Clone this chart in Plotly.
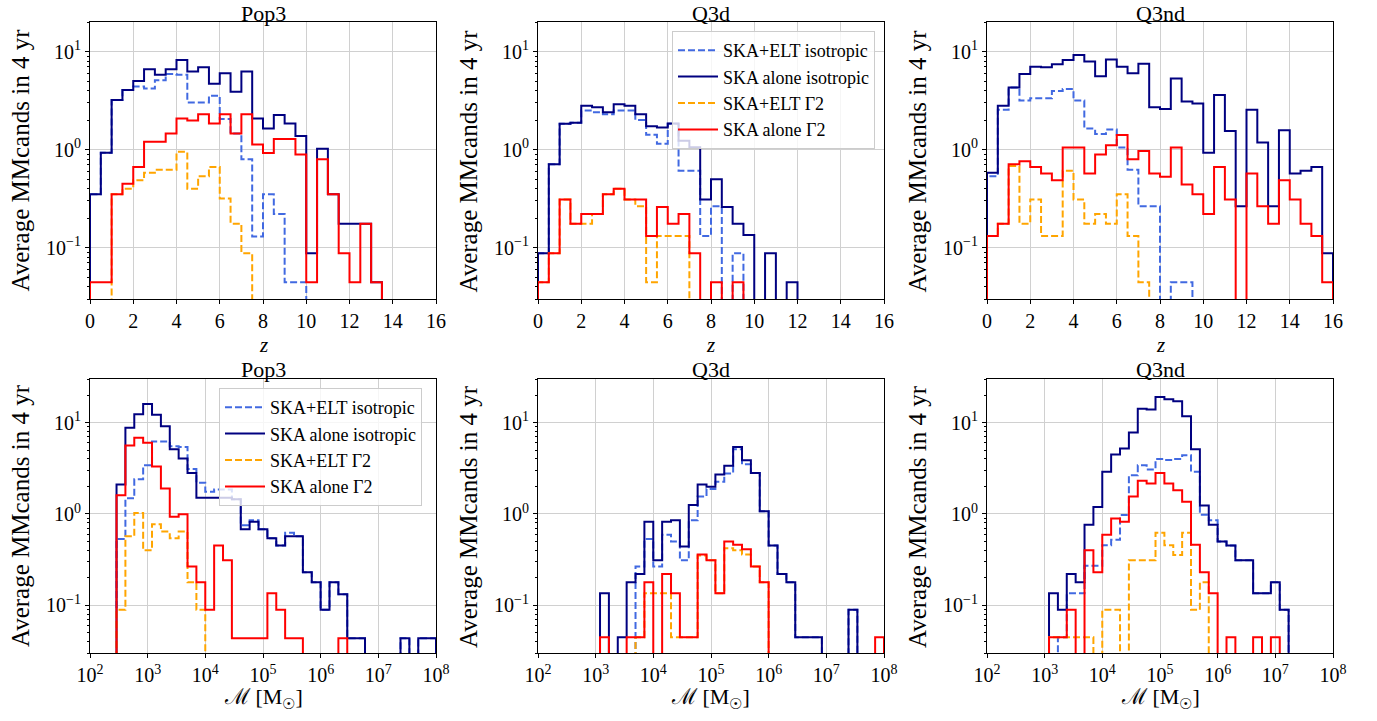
import numpy as np
import plotly.graph_objects as go

# ---------------- data ----------------
z_edges = np.linspace(0, 16, 33)             # redshift bins (width 0.5)
logm_edges = np.linspace(2.46, 8.0, 37)      # log10 chirp-mass bins
m_edges = 10 ** logm_edges

series_names = ["SKA+ELT isotropic", "SKA alone isotropic", "SKA+ELT \u03932", "SKA alone \u03932"]
panel_titles = ["Pop3", "Q3d", "Q3nd"]

# ---- top row: counts vs z ----
pop3_z_elt_iso = [0.35, 0.93, 3.2, 4.06, 4.4, 4.2, 5.1, 5.9, 5.8, 3.03, 3.03, 3.55, 2.05, 1.46, 0.8, 0.13,
                  0.35, 0.22, 0.0445, 0.0445, 0, 0, 0, 0, 0, 0, 0, 0, 0, 0, 0, 0]
pop3_z_ska_iso = [0.35, 0.93, 3.2, 4.06, 5.0, 6.6, 5.8, 6.6, 8.2, 6.25, 6.9, 4.7, 6.0, 3.9, 6.25, 2.08,
                  1.64, 2.25, 1.85, 1.38, 0.088, 1.02, 0.35, 0.176, 0.176, 0.176, 0.0445, 0, 0, 0, 0, 0]
pop3_z_elt_g2 = [0, 0, 0.35, 0.40, 0.487, 0.58, 0.625, 0.625, 0.95, 0.40, 0.535, 0.665, 0.317, 0.176, 0.088, 0,
                 0, 0, 0, 0, 0, 0, 0, 0, 0, 0, 0, 0, 0, 0, 0, 0]
pop3_z_ska_g2 = [0.0445, 0.0445, 0.35, 0.45, 0.665, 1.2, 1.2, 1.46, 2.08, 1.98, 2.3, 1.85, 2.3, 1.46, 2.3, 1.13,
                 0.925, 1.28, 1.28, 0.89, 0.0445, 0.796, 0.35, 0.088, 0.0445, 0.176, 0.0445, 0, 0, 0, 0, 0]

q3d_z_elt_iso = [0.088, 0.71, 1.84, 1.88, 2.5, 2.4, 2.3, 2.5, 2.5, 2.0, 1.42, 1.15, 1.84, 0.61, 0.61, 0.132,
                 0.265, 0, 0.088, 0, 0, 0, 0, 0, 0, 0, 0, 0, 0, 0, 0, 0]
q3d_z_ska_iso = [0.088, 0.71, 1.84, 1.88, 2.8, 2.7, 2.4, 2.9, 2.8, 2.3, 1.73, 1.68, 1.85, 1.23, 1.06, 0.31,
                 0.50, 0.26, 0.176, 0.135, 0, 0.088, 0, 0.0445, 0, 0, 0, 0, 0, 0, 0, 0]
q3d_z_elt_g2 = [0.0445, 0.088, 0.31, 0.176, 0.176, 0.22, 0.35, 0.40, 0.31, 0.265, 0.0445, 0.132, 0.132, 0.132, 0, 0,
                0, 0, 0, 0, 0, 0, 0, 0, 0, 0, 0, 0, 0, 0, 0, 0]
q3d_z_ska_g2 = [0.0445, 0.088, 0.31, 0.176, 0.22, 0.22, 0.35, 0.40, 0.31, 0.31, 0.132, 0.26, 0.176, 0.22, 0.088, 0,
                0.0445, 0, 0.0445, 0, 0, 0, 0, 0, 0, 0, 0, 0, 0, 0, 0, 0]

q3nd_z_elt_iso = [0.535, 2.55, 4.3, 3.16, 3.33, 3.33, 3.95, 4.15, 3.16, 1.64, 1.44, 1.6, 1.05, 0.625, 0.265, 0.265,
                  0, 0.0445, 0.0445, 0, 0, 0, 0, 0, 0, 0, 0, 0, 0, 0, 0, 0]
q3nd_z_ska_iso = [0.58, 2.8, 4.3, 5.9, 7.0, 6.9, 7.4, 8.2, 9.2, 7.9, 5.6, 8.3, 7.0, 6.0, 7.5, 2.7,
                  2.6, 5.3, 3.1, 2.95, 0.93, 3.6, 1.55, 0.265, 2.55, 1.18, 0.265, 1.58, 0.57, 0.61, 0.665, 0.088]
q3nd_z_elt_g2 = [0.132, 0.176, 0.68, 0.176, 0.31, 0.132, 0.132, 0.61, 0.31, 0.176, 0.22, 0.176, 0.35, 0.132, 0.0445, 0,
                 0, 0, 0, 0, 0, 0, 0, 0, 0, 0, 0, 0, 0, 0, 0, 0]
q3nd_z_ska_g2 = [0.132, 0.176, 0.71, 0.76, 0.665, 0.57, 0.487, 1.05, 1.05, 0.57, 0.89, 1.11, 1.41, 0.796, 0.97, 0.57,
                 0.53, 1.05, 0.44, 0.35, 0.22, 0.665, 0.31, 0, 0.57, 0.265, 0.176, 0.487, 0.31, 0.176, 0.132, 0.0445]

# ---- bottom row: counts vs chirp mass ----
pop3_m_elt_iso = [0.53, 1.48, 2.4, 3.4, 6.2, 6.2, 5.5, 5.4, 3.1, 2.2, 1.75, 1.85, 1.85, 1.45, 0.75, 0.85, 0.68, 0.54,
                  0.45, 0.62, 0.57, 0.23, 0.178, 0.089, 0.178, 0.132, 0.0435, 0.0435, 0, 0, 0, 0, 0.0435, 0, 0.0435, 0.0435]
pop3_m_ska_iso = [2.1, 8.8, 12.3, 16.0, 12.2, 9.1, 5.1, 4.04, 2.8, 1.5, 1.5, 1.5, 1.5, 1.45, 0.68, 0.82, 0.68, 0.54,
                  0.45, 0.57, 0.57, 0.23, 0.178, 0.089, 0.178, 0.132, 0.0435, 0.0435, 0, 0, 0, 0, 0.0435, 0, 0.0435, 0.0435]
pop3_m_elt_g2 = [0.089, 0.57, 1.02, 0.40, 0.77, 0.64, 0.54, 0.64, 0.178, 0.089, 0, 0, 0, 0, 0, 0, 0, 0,
                 0, 0, 0, 0, 0, 0, 0, 0, 0, 0, 0, 0, 0, 0, 0, 0, 0, 0]
pop3_m_ska_g2 = [1.6, 5.6, 6.8, 6.0, 3.3, 1.9, 0.93, 0.99, 0.265, 0.178, 0.089, 0.45, 0.31, 0.0435, 0.0435, 0.0435, 0.0435, 0.135,
                 0.089, 0.0435, 0.0435, 0, 0, 0, 0, 0.0435, 0, 0, 0, 0, 0, 0, 0, 0, 0, 0]

q3d_m_elt_iso = [0, 0, 0, 0, 0, 0, 0, 0, 0.265, 0.53, 0.265, 0.59, 0.5, 0.31, 0.85, 1.55, 1.87, 2.25,
                 2.77, 5.1, 3.5, 2.8, 1.07, 0.45, 0.22, 0.178, 0.0445, 0.0445, 0.0445, 0, 0, 0, 0.089, 0, 0, 0]
q3d_m_ska_iso = [0, 0, 0, 0, 0.135, 0, 0.0445, 0.178, 0.22, 0.82, 0.31, 0.82, 0.85, 0.44, 1.25, 2.1, 1.98, 2.7,
                 3.36, 5.4, 3.87, 2.8, 1.07, 0.45, 0.22, 0.178, 0.0445, 0.0445, 0.0445, 0, 0, 0, 0.089, 0, 0, 0]
q3d_m_elt_g2 = [0, 0, 0, 0, 0, 0, 0, 0, 0.0445, 0.135, 0.135, 0.135, 0.0445, 0.0445, 0.0445, 0.35, 0.31, 0.135,
                0.42, 0.40, 0.36, 0.265, 0.178, 0, 0, 0, 0, 0, 0, 0, 0, 0, 0, 0, 0, 0]
q3d_m_ska_g2 = [0, 0, 0, 0, 0.0445, 0, 0, 0.0445, 0.0445, 0.178, 0, 0.22, 0.135, 0.0445, 0.0445, 0.36, 0.31, 0.135,
                0.5, 0.46, 0.41, 0.265, 0.178, 0, 0, 0, 0, 0, 0, 0, 0, 0, 0, 0, 0, 0.0445]

q3nd_m_elt_iso = [0, 0, 0, 0, 0, 0.0445, 0.135, 0.135, 0.27, 0.27, 0.455, 0.52, 0.97, 2.65, 3.4, 3.06, 4.0, 3.9,
                  4.0, 4.4, 2.9, 0.98, 0.85, 0.5, 0.45, 0.31, 0.31, 0.135, 0.135, 0.178, 0.089, 0, 0, 0, 0, 0]
q3nd_m_ska_iso = [0, 0, 0, 0, 0.135, 0.089, 0.22, 0.178, 0.76, 1.19, 2.9, 4.46, 5.2, 7.77, 14.2, 13.9, 19.1, 18.0,
                  17.1, 11.7, 5.1, 1.24, 0.76, 0.5, 0.45, 0.31, 0.31, 0.135, 0.135, 0.178, 0.089, 0, 0, 0, 0, 0]
q3nd_m_elt_g2 = [0, 0, 0, 0, 0.0445, 0.0445, 0.0445, 0.0445, 0.0445, 0, 0.089, 0.089, 0, 0.31, 0.31, 0.31, 0.62, 0.455,
                 0.355, 0.62, 0.089, 0.178, 0, 0, 0, 0, 0, 0, 0, 0, 0, 0, 0, 0, 0, 0]
q3nd_m_ska_g2 = [0, 0, 0, 0, 0.0445, 0.0445, 0.089, 0, 0.40, 0.23, 0.59, 0.89, 0.82, 1.55, 2.3, 2.15, 2.8, 2.15,
                 1.82, 1.36, 0.46, 0.23, 0.135, 0, 0.0445, 0, 0, 0.0445, 0, 0.0445, 0, 0, 0, 0, 0, 0]

z_ticks = [0, 2, 4, 6, 8, 10, 12, 14, 16]
m_ticks = [1e2, 1e3, 1e4, 1e5, 1e6, 1e7, 1e8]
m_ticktext = ["10<sup>2</sup>", "10<sup>3</sup>", "10<sup>4</sup>", "10<sup>5</sup>",
              "10<sup>6</sup>", "10<sup>7</sup>", "10<sup>8</sup>"]
y_ticks = [0.1, 1, 10]
y_ticktext = ["10<sup>\u22121</sup>", "10<sup>0</sup>", "10<sup>1</sup>"]
y_minor = [k * 10.0 ** e for e in (-2, -1, 0, 1) for k in range(2, 10)]

# ---------------- styling ----------------
FONT = "Liberation Serif"
colors = ["#4169E1", "#000080", "#FFA500", "#FF0000"]
dashes = ["7px,3px", "solid", "7px,3px", "solid"]
FLOOR = 1e-3  # empty bins drop below the axis, as in matplotlib's log step outline

W, H = 1377, 721
xdom = [(90 / W, 436 / W), (538 / W, 884 / W), (987 / W, 1333 / W)]
ydom_top = (1 - 299 / H, 1 - 22 / H)
ydom_bot = (1 - 653 / H, 1 - 379 / H)


def step_path(edges, vals):
    v = [x if x > 0 else FLOOR for x in vals]
    xs = [edges[0]] + list(edges[:-1]) + [edges[-1], edges[-1]]
    ys = [FLOOR] + v + [v[-1], FLOOR]
    return xs, ys


panels = [
    (1, z_edges, [pop3_z_elt_iso, pop3_z_ska_iso, pop3_z_elt_g2, pop3_z_ska_g2], None),
    (2, z_edges, [q3d_z_elt_iso, q3d_z_ska_iso, q3d_z_elt_g2, q3d_z_ska_g2], "legend"),
    (3, z_edges, [q3nd_z_elt_iso, q3nd_z_ska_iso, q3nd_z_elt_g2, q3nd_z_ska_g2], None),
    (4, m_edges, [pop3_m_elt_iso, pop3_m_ska_iso, pop3_m_elt_g2, pop3_m_ska_g2], "legend2"),
    (5, m_edges, [q3d_m_elt_iso, q3d_m_ska_iso, q3d_m_elt_g2, q3d_m_ska_g2], None),
    (6, m_edges, [q3nd_m_elt_iso, q3nd_m_ska_iso, q3nd_m_elt_g2, q3nd_m_ska_g2], None),
]

fig = go.Figure()
for idx, edges, series, leg in panels:
    sfx = "" if idx == 1 else str(idx)
    for name, vals, col, dsh in zip(series_names, series, colors, dashes):
        xs, ys = step_path(edges, vals)
        fig.add_trace(go.Scatter(
            x=xs, y=ys, mode="lines", line_shape="hv", name=name,
            line=dict(color=col, width=2, dash=dsh),
            xaxis="x" + sfx, yaxis="y" + sfx,
            showlegend=leg is not None, legend=leg if leg else "legend",
            hoverinfo="skip"))

axis_common = dict(showline=True, linecolor="black", linewidth=1, mirror=True,
                   ticks="outside", ticklen=4, tickcolor="black", tickwidth=1,
                   showgrid=True, gridcolor="#d0d0d0", gridwidth=1, zeroline=False,
                   automargin=False,
                   tickfont=dict(family=FONT, size=20, color="black"))

layout = {}
for idx in range(1, 7):
    sfx = "" if idx == 1 else str(idx)
    col = (idx - 1) % 3
    top = idx <= 3
    xa = dict(axis_common, domain=list(xdom[col]), anchor="y" + sfx)
    if top:
        xa.update(range=[0, 16], tickmode="array", tickvals=z_ticks, ticktext=[str(t) for t in z_ticks])
    else:
        xa.update(type="log", range=[2, 8], tickmode="array", tickvals=m_ticks, ticktext=m_ticktext)
    ya = dict(axis_common, domain=list(ydom_top if top else ydom_bot), anchor="x" + sfx, type="log",
              range=[np.log10(0.03), np.log10(20 if top else 30)],
              tickmode="array", tickvals=y_ticks, ticktext=y_ticktext,
              minor=dict(tickmode="array", tickvals=y_minor, ticks="outside", ticklen=2,
                         tickcolor="black", showgrid=False))
    layout["xaxis" + sfx] = xa
    layout["yaxis" + sfx] = ya

annotations = []
for col in range(3):
    xc = (xdom[col][0] + xdom[col][1]) / 2
    # panel titles
    annotations.append(dict(text=panel_titles[col], x=xc, y=1.0, xref="paper", yref="paper",
                            showarrow=False, xanchor="center", yanchor="top", borderpad=0,
                            font=dict(family=FONT, size=22, color="black")))
    annotations.append(dict(text=panel_titles[col], x=xc, y=1 - 369 / H, xref="paper", yref="paper",
                            showarrow=False, xanchor="center", yanchor="middle",
                            font=dict(family=FONT, size=22, color="black")))
    # x-axis titles
    annotations.append(dict(text="<i>z</i>", x=xc, y=1 - 332 / H, xref="paper", yref="paper",
                            showarrow=False, xanchor="center", yanchor="top", borderpad=0,
                            font=dict(family=FONT, size=21, color="black")))
    annotations.append(dict(text="\u2133 [M<sub>\u2609</sub>]", x=xc, y=1 - 698 / H,
                            xref="paper", yref="paper", showarrow=False,
                            xanchor="center", yanchor="middle",
                            font=dict(family=FONT, size=22, color="black")))
    # y-axis titles
    for ylab_c in [(ydom_top[0] + ydom_top[1]) / 2, (ydom_bot[0] + ydom_bot[1]) / 2]:
        annotations.append(dict(text="Average MMcands in 4 yr", x=xdom[col][0] - 70 / W, y=ylab_c,
                                xref="paper", yref="paper", showarrow=False, textangle=-90,
                                xanchor="center", yanchor="middle",
                                font=dict(family=FONT, size=25, color="black")))

legend_style = dict(bgcolor="rgba(255,255,255,0.8)", bordercolor="#cccccc", borderwidth=1,
                    font=dict(family=FONT, size=18, color="black"), itemwidth=40,
                    xanchor="right", yanchor="top", tracegroupgap=0)

fig.update_layout(
    width=W, height=H, margin=dict(l=0, r=0, t=0, b=0, pad=0, autoexpand=False),
    paper_bgcolor="white", plot_bgcolor="white",
    font=dict(family=FONT, color="black"),
    annotations=annotations,
    legend=dict(legend_style, x=875 / W, y=1 - 31 / H),
    legend2=dict(legend_style, x=422 / W, y=1 - 388 / H),
    **layout)

fig.write_html("out.html")
